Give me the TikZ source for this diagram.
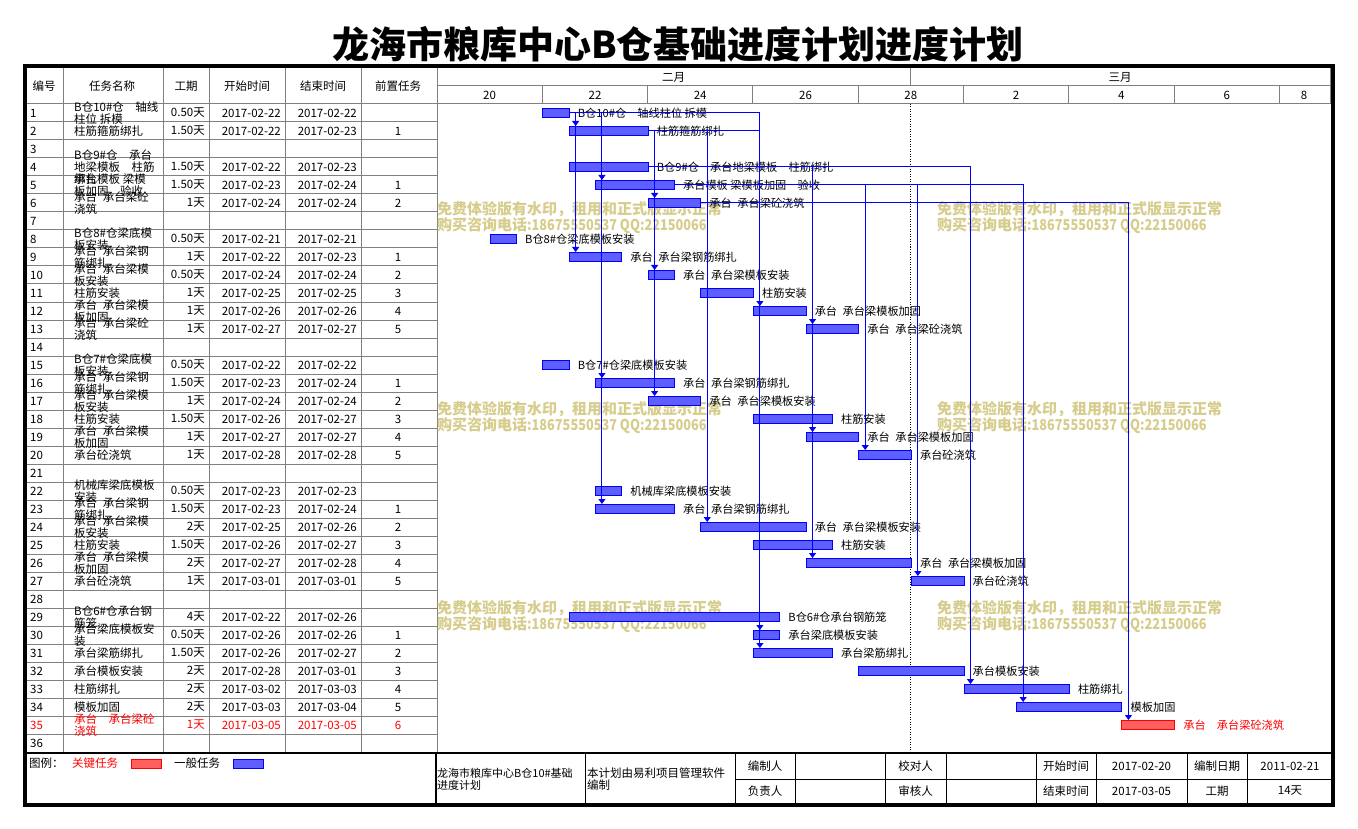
\documentclass[tikz,border=0pt]{standalone}
\usepackage{fontspec}
\setmainfont{Noto Sans CJK SC}
\usetikzlibrary{arrows.meta,calc}
\definecolor{gridg}{RGB}{128,128,128}
\definecolor{barblue}{RGB}{95,95,255}
\definecolor{barred}{RGB}{255,95,95}
\definecolor{wmcol}{RGB}{214,205,140}
\newcommand{\hsp}{\hspace{0.5em}}
\newcommand{\wmtext}{免费体验版有水印，租用和正式版显示正常\\购买咨询电话\scalebox{0.85}[1]{:18675550537 QQ:22150066}}
\tikzset{
  ganttbar/.style={draw=blue, line width=1pt, fill=barblue, minimum height=9pt, inner sep=0pt, anchor=west},
  critbar/.style={ganttbar, draw=red, fill=barred},
  lbl/.style={font=\fontsize{11.2}{12}\selectfont, anchor=west, inner sep=0pt},
  link/.style={draw=blue, line width=1pt, -{Triangle[length=5pt,width=7pt]}},
  cell/.style={font=\fontsize{11.5}{12}\selectfont, inner sep=0pt},
  fcell/.style={font=\fontsize{11.5}{12}\selectfont, inner sep=0pt},
  gline/.style={draw=gridg, line width=1pt},
  wmark/.style={text=wmcol, font=\fontsize{15}{16}\bfseries\selectfont, anchor=west, inner sep=0pt, align=left},
}
\begin{document}
\begin{tikzpicture}[x=1pt,y=-1pt]
\useasboundingbox[fill=white] (0,0) rectangle (1358,829);

% title
\node[font=\fontsize{37}{40}\bfseries\selectfont, inner sep=0pt] (title) at (678,44) {龙海市粮库中心B仓基础进度计划进度计划};

% table grid
\foreach \k in {0,...,35} \draw[gline] (25,{104+18*\k}) -- (437,{104+18*\k});
\foreach \x in {63,163,209,285,361,437} \draw[gline] (\x,66) -- (\x,753);

% chart header grid
\draw[gline] (437,86) -- (1330,86);
\draw[gline] (437,104) -- (1330,104);
\draw[gline] (910.5,66) -- (910.5,86);
\foreach \k in {1,...,8} \draw[gline] ({437+105.3*\k},86) -- ({437+105.3*\k},104);
\draw[gline] (1330,66) -- (1330,104);

% today line
\draw[line width=0.9pt, dash pattern=on 1pt off 1.5pt] (910.5,104) -- (910.5,753);

% header texts
\node[cell] (h1) at (44,86) {编号};
\node[cell] (h2) at (112,86) {任务名称};
\node[cell] (h3) at (186,86) {工期};
\node[cell] (h4) at (247,86) {开始时间};
\node[cell] (h5) at (323,86) {结束时间};
\node[cell] (h6) at (398,86) {前置任务};
\node[cell] (m1) at (673.5,77) {二月};
\node[cell] (m2) at (1120,77) {三月};
\foreach \lab/\lx [count=\i] in {20/489.6,22/595,24/700.2,26/805.5,28/910.8,2/1016.1,4/1121.4,6/1226.7,8/1304}
  \node[cell] (d\i) at (\lx,95) {\lab};

% watermarks
\foreach \wx/\wy [count=\i] in {437/218,937/218,437/418,937/418,437/617,937/617}
  \node[wmark] (wm\i) at (\wx,\wy) {\wmtext};

% empty rows
\foreach \r in {3,7,14,21,28,36}
  \node[cell, anchor=west] (id\r) at (30,{95+18*\r}) {\r};

% table rows
\foreach \r/\c/\n/\d/\sd/\ed/\p in {
 1/black/{B仓10\#仓　轴线\\柱位 拆模}/0.50天/2017-02-22/2017-02-22/{},
 2/black/{柱筋箍筋绑扎}/1.50天/2017-02-22/2017-02-23/1,
 4/black/{B仓9\#仓　承台\\地梁模板　柱筋\\绑扎}/1.50天/2017-02-22/2017-02-23/{},
 5/black/{承台模板 梁模\\板加固　验收}/1.50天/2017-02-23/2017-02-24/1,
 6/black/{承台\hsp 承台梁砼\\浇筑}/1天/2017-02-24/2017-02-24/2,
 8/black/{B仓8\#仓梁底模\\板安装}/0.50天/2017-02-21/2017-02-21/{},
 9/black/{承台\hsp 承台梁钢\\筋绑扎}/1天/2017-02-22/2017-02-23/1,
 10/black/{承台\hsp 承台梁模\\板安装}/0.50天/2017-02-24/2017-02-24/2,
 11/black/{柱筋安装}/1天/2017-02-25/2017-02-25/3,
 12/black/{承台\hsp 承台梁模\\板加固}/1天/2017-02-26/2017-02-26/4,
 13/black/{承台\hsp 承台梁砼\\浇筑}/1天/2017-02-27/2017-02-27/5,
 15/black/{B仓7\#仓梁底模\\板安装}/0.50天/2017-02-22/2017-02-22/{},
 16/black/{承台\hsp 承台梁钢\\筋绑扎}/1.50天/2017-02-23/2017-02-24/1,
 17/black/{承台\hsp 承台梁模\\板安装}/1天/2017-02-24/2017-02-24/2,
 18/black/{柱筋安装}/1.50天/2017-02-26/2017-02-27/3,
 19/black/{承台\hsp 承台梁模\\板加固}/1天/2017-02-27/2017-02-27/4,
 20/black/{承台砼浇筑}/1天/2017-02-28/2017-02-28/5,
 22/black/{机械库梁底模板\\安装}/0.50天/2017-02-23/2017-02-23/{},
 23/black/{承台\hsp 承台梁钢\\筋绑扎}/1.50天/2017-02-23/2017-02-24/1,
 24/black/{承台\hsp 承台梁模\\板安装}/2天/2017-02-25/2017-02-26/2,
 25/black/{柱筋安装}/1.50天/2017-02-26/2017-02-27/3,
 26/black/{承台\hsp 承台梁模\\板加固}/2天/2017-02-27/2017-02-28/4,
 27/black/{承台砼浇筑}/1天/2017-03-01/2017-03-01/5,
 29/black/{B仓6\#仓承台钢\\筋笼}/4天/2017-02-22/2017-02-26/{},
 30/black/{承台梁底模板安\\装}/0.50天/2017-02-26/2017-02-26/1,
 31/black/{承台梁筋绑扎}/1.50天/2017-02-26/2017-02-27/2,
 32/black/{承台模板安装}/2天/2017-02-28/2017-03-01/3,
 33/black/{柱筋绑扎}/2天/2017-03-02/2017-03-03/4,
 34/black/{模板加固}/2天/2017-03-03/2017-03-04/5,
 35/red/{承台　承台梁砼\\浇筑}/1天/2017-03-05/2017-03-05/6}
{
  \node[cell, anchor=west, text=\c] (id\r) at (30,{95+18*\r}) {\r};
  \node[cell, anchor=west, align=left, text=\c] (nm\r) at (74,{95+18*\r}) {\n};
  \node[cell, anchor=east, text=\c] (du\r) at (205,{95+18*\r}) {\d};
  \node[cell, anchor=east, text=\c] (sd\r) at (281,{95+18*\r}) {\sd};
  \node[cell, anchor=east, text=\c] (ed\r) at (357,{95+18*\r}) {\ed};
  \node[cell, text=\c] (pr\r) at (398,{95+18*\r}) {\p};
}

% bars
\foreach \r/\bs/\be/\t in {
 1/22/22.5/{B仓10\#仓　轴线柱位 拆模},
 2/22.5/24/{柱筋箍筋绑扎},
 4/22.5/24/{B仓9\#仓　承台地梁模板　柱筋绑扎},
 5/23/24.5/{承台模板 梁模板加固　验收},
 6/24/25/{承台\hsp 承台梁砼浇筑},
 8/21/21.5/{B仓8\#仓梁底模板安装},
 9/22.5/23.5/{承台\hsp 承台梁钢筋绑扎},
 10/24/24.5/{承台\hsp 承台梁模板安装},
 11/25/26/{柱筋安装},
 12/26/27/{承台\hsp 承台梁模板加固},
 13/27/28/{承台\hsp 承台梁砼浇筑},
 15/22/22.5/{B仓7\#仓梁底模板安装},
 16/23/24.5/{承台\hsp 承台梁钢筋绑扎},
 17/24/25/{承台\hsp 承台梁模板安装},
 18/26/27.5/{柱筋安装},
 19/27/28/{承台\hsp 承台梁模板加固},
 20/28/29/{承台砼浇筑},
 22/23/23.5/{机械库梁底模板安装},
 23/23/24.5/{承台\hsp 承台梁钢筋绑扎},
 24/25/27/{承台\hsp 承台梁模板安装},
 25/26/27.5/{柱筋安装},
 26/27/29/{承台\hsp 承台梁模板加固},
 27/29/30/{承台砼浇筑},
 29/22.5/26.5/{B仓6\#仓承台钢筋笼},
 30/26/26.5/{承台梁底模板安装},
 31/26/27.5/{承台梁筋绑扎},
 32/28/30/{承台模板安装},
 33/30/32/{柱筋绑扎},
 34/31/33/{模板加固}}
{
  \pgfmathsetmacro\bw{(\be-\bs)*52.65}
  \node[ganttbar, minimum width=\bw pt] (b\r) at ({437+(\bs-20)*52.65},{95+18*\r}) {};
  \node[lbl] (t\r) at ([xshift=8pt]b\r.east) {\t};
}
\node[critbar, minimum width=52.65pt] (b35) at ({437+13*52.65},{95+18*35}) {};
\node[lbl, text=red] (t35) at ([xshift=8pt]b35.east) {承台　承台梁砼浇筑};

% links
\foreach \pa/\sb in {1/2,1/5,1/9,1/16,1/23,1/30,2/6,2/10,2/17,2/24,2/31,4/12,4/19,4/26,4/33,5/13,5/20,5/27,5/34,6/35}
  \draw[link] (b\pa.east) -| ([xshift=7pt]b\sb.north west);

% outer border and footer
\draw[line width=4pt] (25,66) rectangle (1333,805);
\draw[line width=1.5pt] (25,753) -- (1333,753);
\draw[line width=1.2pt] (436,753) -- (436,805);
\foreach \x in {585,735,795,885,946,1036,1096,1187,1247} \draw[line width=1pt] (\x,753) -- (\x,805);
\draw[line width=1pt] (735,779) -- (1333,779);

% legend
\node[cell, anchor=west] (lg0) at (29,763) {图例：};
\node[cell, anchor=west, text=red] (lg1) at (72,763) {关键任务};
\node[critbar, minimum width=30pt] (lg2) at (131,763.5) {};
\node[cell, anchor=west] (lg3) at (174,763) {一般任务};
\node[ganttbar, minimum width=30pt] (lg4) at (233,763.5) {};

% footer texts
\node[font=\fontsize{11}{12}\selectfont, inner sep=0pt, anchor=west, align=left] (f1) at (437,779) {龙海市粮库中心B仓10\#基础\\进度计划};
\node[fcell, anchor=west, align=left] (f2) at (587,779) {本计划由易利项目管理软件\\编制};
\node[fcell] (f3) at (765,766) {编制人};
\node[fcell] (f4) at (765,791) {负责人};
\node[fcell] (f5) at (915.5,766) {校对人};
\node[fcell] (f6) at (915.5,791) {审核人};
\node[fcell] (f7) at (1066,766) {开始时间};
\node[fcell] (f8) at (1066,791) {结束时间};
\node[fcell] (f9) at (1141.5,766) {2017-02-20};
\node[fcell] (f10) at (1141.5,791) {2017-03-05};
\node[fcell] (f11) at (1217,766) {编制日期};
\node[fcell] (f12) at (1217,791) {工期};
\node[fcell] (f13) at (1290,766) {2011-02-21};
\node[fcell] (f14) at (1290,791) {14天};
\end{tikzpicture}
\end{document}
